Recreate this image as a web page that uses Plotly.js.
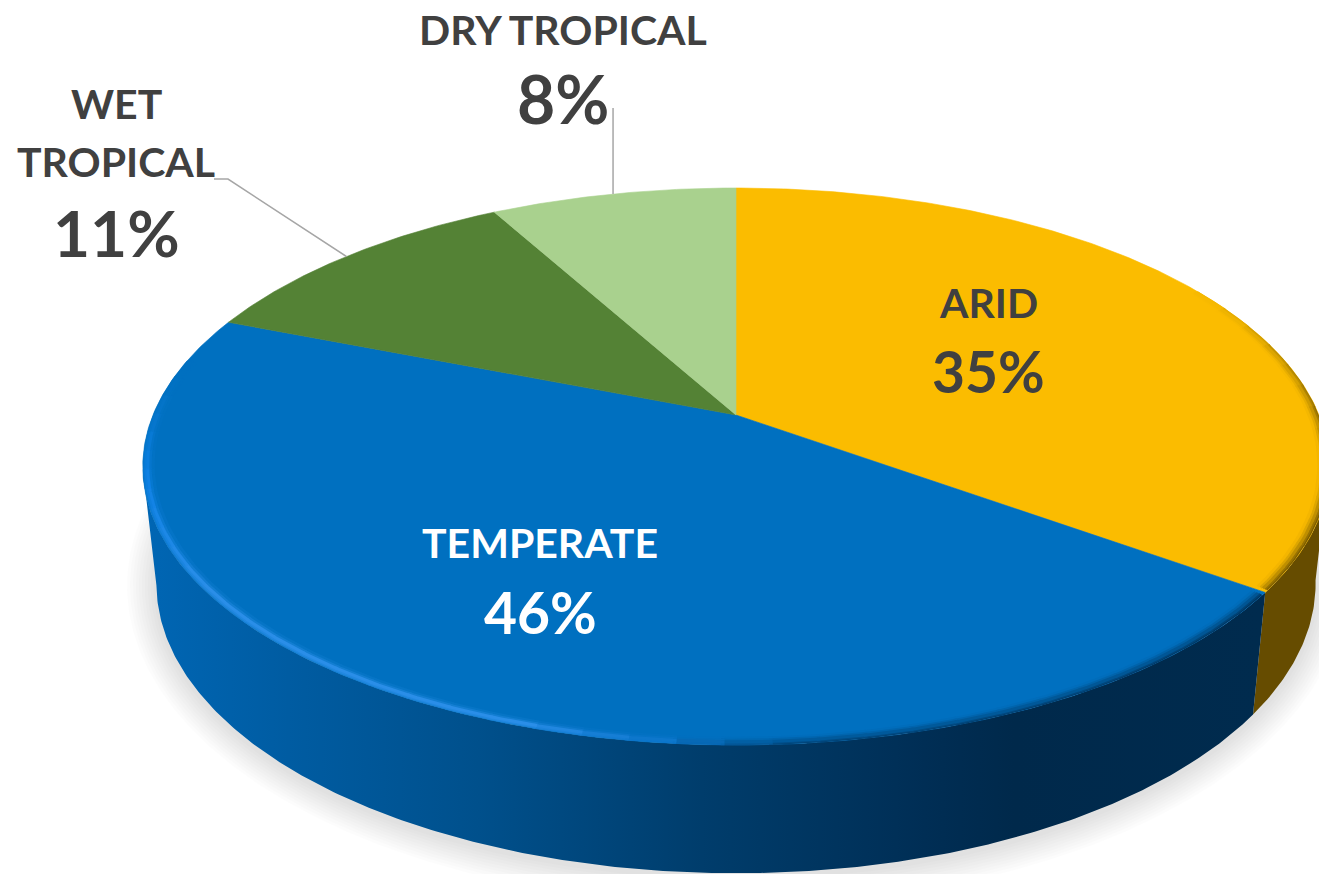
<!DOCTYPE html>
<html>
<head>
<meta charset="utf-8">
<script src="https://cdn.plot.ly/plotly-3.0.1.min.js"></script>
<style>html,body{margin:0;padding:0;background:#fff;overflow:hidden}#chart{width:1319px;height:874px}</style>
</head>
<body>
<div id="chart"></div>
<script>
// ---- data (clockwise from 12 o'clock) ----
const categories = ['ARID', 'TEMPERATE', 'WET TROPICAL', 'DRY TROPICAL'];
const shares = [35, 46, 11, 8];
const topColors = ['#FBBC00', '#0070C0', '#548235', '#A9D18E'];
const labelLines = [['ARID'], ['TEMPERATE'], ['WET', 'TROPICAL'], ['DRY TROPICAL']];
const labelColors = ['#404040', '#FFFFFF', '#404040', '#404040'];

// ---- projection of the tilted disc into the plot's coordinates ----
const CX = 736, CY = 415, AX = 583, BY = 269, PERSP = 0.185;
const LOW_SCALE_X = 0.977, LOW_SCALE_Y = 1.04, LOW_Y = 530;
function topPt(deg, r) {
  r = r === undefined ? 1 : r;
  const t = deg * Math.PI / 180, u = r * Math.sin(t), v = r * Math.cos(t), w = 1 + PERSP * v;
  return [CX + AX * u / w, CY - BY * v / w];
}
function lowPt(deg) {
  const p = topPt(deg);
  return [CX + LOW_SCALE_X * (p[0] - CX), LOW_Y + LOW_SCALE_Y * (p[1] - CY)];
}
function arc(fn, a, b, arg) {
  const n = Math.max(2, Math.ceil(Math.abs(b - a) * 2)), pts = [];
  for (let i = 0; i <= n; i++) pts.push(fn(a + (b - a) * i / n, arg));
  return pts;
}
const xs = p => p.map(q => q[0]), ys = p => p.map(q => q[1]);
const base = {type: 'scatter', mode: 'lines', hoverinfo: 'skip', showlegend: false};

// slice boundaries in degrees
const edges = [0];
shares.forEach(s => edges.push(edges[edges.length - 1] + s * 3.6));
const traces = [];

// ---- soft ground shadow ----
for (let d = 30; d > 0; d -= 3) {
  const pts = arc(lowPt, 60, 300).map(p => [
    CX + (p[0] - CX) * (1 + d / 590),
    590 + (p[1] - 590) * (1 + d / 290) + 3
  ]);
  traces.push(Object.assign({}, base, {
    x: xs(pts), y: ys(pts), fill: 'toself', line: {width: 0},
    fillcolor: 'rgba(0,0,0,0.0135)'
  }));
}

// ---- side walls ----
function wall(a, b) {
  const p = arc(topPt, a, b).concat(arc(lowPt, b, a));
  p.push(p[0]);
  return p;
}
const yWall = wall(100, edges[1]);
traces.push(Object.assign({}, base, {
  x: xs(yWall), y: ys(yWall), fill: 'toself', line: {width: 0}, fillcolor: '#664C00'
}));
const bWall = wall(edges[1], 259);
traces.push(Object.assign({}, base, {
  x: xs(bWall), y: ys(bWall), fill: 'toself', line: {width: 0},
  fillgradient: {
    type: 'horizontal', start: 143, stop: 1260,
    colorscale: [[0, '#0066B4'], [0.13, '#005CA2'], [0.3, '#00508C'], [0.5, '#003D6C'],
                 [0.7, '#002E55'], [0.78, '#00294B'], [1, '#002B4E']]
  }
}));

// ---- top face ----
shares.forEach((s, i) => {
  const p = [[CX, CY]].concat(arc(topPt, edges[i], edges[i + 1]));
  p.push([CX, CY]);
  traces.push(Object.assign({}, base, {
    x: xs(p), y: ys(p), fill: 'toself', line: {width: 0.6, color: topColors[i]},
    fillcolor: topColors[i]
  }));
});

// ---- bevel along the front edge ----
const hex = h => [1, 3, 5].map(i => parseInt(h.substr(i, 2), 16));
const mix = (a, b, t) => a.map((v, i) => v + (b[i] - v) * t);
const rgb = c => 'rgb(' + c.map(Math.round).join(',') + ')';
function bevelStop(stops, t) {
  for (let i = 1; i < stops.length; i++) {
    if (t <= stops[i][0]) {
      const A = stops[i - 1], B = stops[i], f = (t - A[0]) / (B[0] - A[0]);
      return {c: mix(hex(A[1]), hex(B[1]), f), s: A[2] + (B[2] - A[2]) * f, h: A[3] + (B[3] - A[3]) * f};
    }
  }
  const l = stops[stops.length - 1];
  return {c: hex(l[1]), s: l[2], h: l[3]};
}
// angle, colour, strength, 0 = shadow at the edge / 1 = ridge just inside it
const blueBevel = [[126, '#002C50', 1, 0], [176, '#003A68', 1, 0], [186, '#1078D0', 0.9, 0.6], [197, '#2A8EE8', 1, 1],
                   [235, '#2A8EE8', 1, 1], [258, '#0C80E4', 1, 1], [272, '#0A7AD4', 0.4, 1], [282, '#0070C0', 0, 1]];
const yellowBevel = [[60, '#8A6E10', 0, 0], [75, '#6E5600', 0.5, 0], [95, '#664C00', 1, 0], [126, '#664C00', 1, 0]];
// drawn in this order, from faintest to strongest
const layers = [
  {r: 0.983, w: 3, shadow: 0.05, ridge: 0.15},
  {r: 0.988, w: 3, shadow: 0.2, ridge: 0.45},
  {r: 0.998, w: 2, shadow: 0.85, ridge: 0.55},
  {r: 0.9955, w: 2.5, shadow: 0.65, ridge: 0.8},
  {r: 0.992, w: 3, shadow: 0.4, ridge: 1}
];
function bevel(a, b, stops, base0, seg) {
  layers.forEach(l => {
    for (let i = 0; i < seg; i++) {
      const t0 = a + (b - a) * i / seg, t1 = a + (b - a) * (i + 1) / seg;
      const s = bevelStop(stops, (t0 + t1) / 2);
      const alpha = s.s * ((1 - s.h) * l.shadow + s.h * l.ridge);
      const p = arc(topPt, t0, Math.min(b, t1 + 0.3), l.r);
      traces.push(Object.assign({}, base, {
        x: xs(p), y: ys(p),
        line: {width: l.w, color: rgb(mix(hex(base0), s.c, alpha))}
      }));
    }
  });
}
bevel(edges[1] + 0.5, 282, blueBevel, topColors[1], 40);
bevel(60, edges[1] - 0.5, yellowBevel, topColors[0], 14);

// ---- leader lines, anchored on the middle of each small slice's arc ----
const LEADER = '#A6A6A6';
const midArc = i => topPt((edges[i] + edges[i + 1]) / 2);
const wetEnd = midArc(2), dryEnd = midArc(3);
traces.push(Object.assign({}, base, {
  x: [214, 228, wetEnd[0]], y: [179, 179, wetEnd[1]], line: {width: 1.5, color: LEADER}
}));
traces.push(Object.assign({}, base, {
  x: [dryEnd[0], dryEnd[0]], y: [108, dryEnd[1]], line: {width: 1.5, color: LEADER}
}));

// ---- labels ----
const FONT = 'Lato, "Open Sans", sans-serif';
const nameSize = 41, pctSizes = [57, 57, 64, 66];
const labelAnchor = [
  {x: 988, name: [302], pct: 371},
  {x: 540, name: [542], pct: 612},
  {x: 116, name: [103, 161], pct: 232},
  {x: 563, name: [29], pct: 98}
];
const annotations = [];
labelLines.forEach((lines, i) => {
  lines.forEach((ln, j) => annotations.push({
    x: labelAnchor[i].x, y: labelAnchor[i].name[j], text: '<b>' + ln + '</b>', showarrow: false,
    xanchor: 'center', yanchor: 'middle', font: {family: FONT, size: nameSize, color: labelColors[i]}
  }));
  annotations.push({
    x: labelAnchor[i].x, y: labelAnchor[i].pct, text: '<b>' + shares[i] + '%</b>', showarrow: false,
    xanchor: 'center', yanchor: 'middle', font: {family: FONT, size: pctSizes[i], color: labelColors[i]}
  });
});

Plotly.newPlot('chart', traces, {
  width: 1319, height: 874,
  margin: {l: 0, r: 0, t: 0, b: 0},
  paper_bgcolor: '#FFFFFF', plot_bgcolor: '#FFFFFF',
  showlegend: false,
  xaxis: {range: [0, 1319], visible: false, fixedrange: true},
  yaxis: {range: [874, 0], visible: false, fixedrange: true},
  annotations: annotations
}, {displayModeBar: false, staticPlot: true});
</script>
</body>
</html>
